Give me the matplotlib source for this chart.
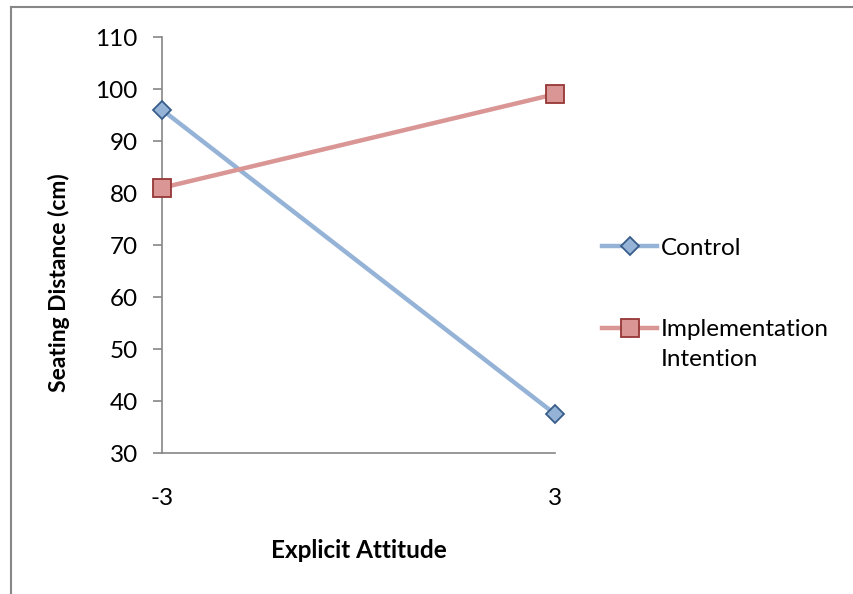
import matplotlib.pyplot as plt
from matplotlib.lines import Line2D

plt.rcParams['font.family'] = ['Lato', 'DejaVu Sans']

categories = ['-3', '3']
control = [96, 37.5]
implementation = [81, 99]
yticks = [30, 40, 50, 60, 70, 80, 90, 100, 110]

W, H = 854, 594
fig = plt.figure(figsize=(W / 100, H / 100), dpi=100)

# outer chart border (top and left visible)
fig.add_artist(Line2D([11.5 / W, 11.5 / W], [0, 1 - 6.5 / H], color='#878787', lw=1.5))
fig.add_artist(Line2D([11.5 / W, 1], [1 - 6.5 / H, 1 - 6.5 / H], color='#878787', lw=1.5))

ax = fig.add_axes([162 / W, 1 - 453 / H, (555 - 162) / W, (453 - 37) / H])

x = range(len(categories))
ax.plot(x, control, color='#95B3D7', lw=3.2, marker='D', markersize=9.5,
        markerfacecolor='#95B3D7', markeredgecolor='#385D8A', markeredgewidth=1.3,
        label='Control', zorder=3, clip_on=False)
ax.plot(x, implementation, color='#D99694', lw=3.2, marker='s', markersize=13.5,
        markerfacecolor='#D99694', markeredgecolor='#953735', markeredgewidth=1.3,
        label='Implementation', zorder=3, clip_on=False)

ax.set_xlim(0, 1)
ax.set_ylim(30, 110)
ax.set_yticks(yticks)
ax.set_xticks(list(x))
ax.set_xticklabels(categories)

for s in ['top', 'right']:
    ax.spines[s].set_visible(False)
for s in ['left', 'bottom']:
    ax.spines[s].set_color('#868686')
    ax.spines[s].set_linewidth(1.2)
    ax.spines[s].set_zorder(1)

fs = 17.5
ax.tick_params(axis='y', length=6.5, width=1.2, color='#868686', labelsize=fs, pad=11)
ax.tick_params(axis='x', length=0, labelsize=fs, pad=25)

ax.set_xlabel('Explicit Attitude', fontsize=fs, fontweight='bold', va='top')
ax.xaxis.set_label_coords(0.5, -0.207)
ax.set_ylabel('Seating Distance (cm)', fontsize=16.5, fontweight='bold')
ax.yaxis.set_label_coords(-0.234, 0.41)

leg = ax.legend(loc='upper left', bbox_to_anchor=(1.12, 0.518), frameon=False,
                fontsize=fs, handlelength=2.26, handletextpad=0.16,
                labelspacing=2.5, borderpad=0, borderaxespad=0)

# second line of the wrapped legend label
fig.canvas.draw()
bb = leg.get_texts()[1].get_window_extent()
fig.text(bb.x0 / W, (bb.y0 - 9) / H, 'Intention', fontsize=fs, ha='left', va='top')

fig.savefig('out.png', dpi=100)
